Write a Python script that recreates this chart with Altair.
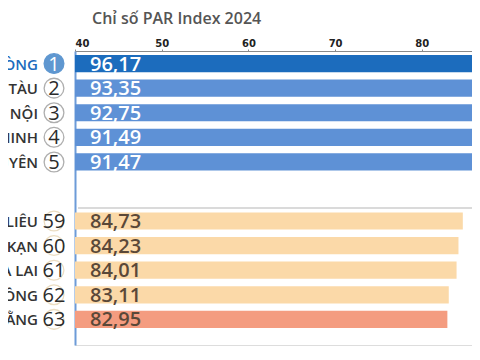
import altair as alt
import pandas as pd

ranks = [1, 2, 3, 4, 5, 59, 60, 61, 62, 63]
names = ["HẢI PHÒNG", "BÀ RỊA-VŨNG TÀU", "HÀ NỘI", "QUẢNG NINH", "THÁI NGUYÊN",
         "BẠC LIÊU", "BẮC KẠN", "GIA LAI", "LÂM ĐỒNG", "CAO BẰNG"]
values = [96.17, 93.35, 92.75, 91.49, 91.47, 84.73, 84.23, 84.01, 83.11, 82.95]
tiers = ["first", "top", "top", "top", "top", "low", "low", "low", "low", "last"]
x_ticks = [40, 50, 60, 70, 80]
title_text = "Chỉ số PAR Index 2024"

GAP = 1.4  # extra rows between the two groups
W, H = 397, 294
XMIN, XMAX = 40, 40 + W / 8.67
YMIN = -0.51
YMAX = YMIN + H / 24.6

df = pd.DataFrame({"rank": ranks, "name": names, "value": values, "tier": tiers})
df["pos"] = [i + (GAP if i >= 5 else 0) for i in range(len(df))]
df["y0"] = df["pos"] - 0.35
df["y1"] = df["pos"] + 0.35
df["lab"] = [f"{v:.2f}".replace(".", ",") for v in df["value"]]

xs = alt.Scale(domain=[XMIN, XMAX], nice=False, zero=False)
ys = alt.Scale(domain=[YMIN, YMAX], nice=False, zero=False, reverse=True)

base = alt.Chart(df)

bars = base.mark_bar(clip=True, cornerRadius=0).encode(
    x=alt.X("value:Q", scale=xs,
            axis=alt.Axis(orient="top", values=x_ticks, title=None, grid=False,
                          domainColor="#8a8a8a", tickColor="#8a8a8a", tickSize=2,
                          labelFont="DejaVu Sans", labelFontWeight="bold", labelFontSize=10,
                          labelColor="#222", labelPadding=1)),
    x2=alt.value(0),
    y=alt.Y("y0:Q", scale=ys,
            axis=alt.Axis(orient="left", labels=False, ticks=False, grid=False, title=None,
                          domainColor="#6d9bd8", domainWidth=2)),
    y2="y1:Q",
    color=alt.Color("tier:N", legend=None,
                    scale=alt.Scale(domain=["first", "top", "low", "last"],
                                    range=["#1c6cbd", "#5e91d6", "#fbd9a8", "#f49c80"])),
)

vals = base.mark_text(align="left", baseline="middle", font="Open Sans", fontSize=20,
                      fontWeight=600, dy=1).encode(
    x=alt.value(15),
    y=alt.Y("pos:Q", scale=ys),
    text="lab:N",
    color=alt.condition("datum.rank <= 5", alt.value("white"), alt.value("#5a4838")),
)

circles = base.mark_point(shape="circle", size=390, filled=False, strokeWidth=1.3).encode(
    x=alt.value(-21),
    y=alt.Y("pos:Q", scale=ys),
    fill=alt.condition("datum.rank == 1", alt.value("#1c6cbd"), alt.value("white")),
    stroke=alt.Stroke("tier:N", legend=None,
                      scale=alt.Scale(domain=["first", "top", "low", "last"],
                                      range=["#1c6cbd", "#8c8c8c", "#e3cfa8", "#e3cfa8"])),
)

nums = base.mark_text(align="center", baseline="middle", font="Open Sans", fontSize=20,
                      dy=1).encode(
    x=alt.value(-21),
    y=alt.Y("pos:Q", scale=ys),
    text="rank:N",
    color=alt.condition("datum.rank == 1", alt.value("white"), alt.value("#2b2b2b")),
)

labels = base.mark_text(align="right", baseline="middle", font="Open Sans", fontSize=15,
                        fontWeight=600, dy=1).encode(
    x=alt.value(-37),
    y=alt.Y("pos:Q", scale=ys),
    text="name:N",
    color=alt.condition("datum.rank == 1", alt.value("#1c6cbd"), alt.value("#333333")),
)

sep = alt.Chart(pd.DataFrame({"k": [0]})).mark_rule(color="#b5b5b5", strokeWidth=1).encode(
    x=alt.value(3), x2=alt.value(W + 10), y=alt.value(157)
)

title = alt.Chart(pd.DataFrame({"t": [title_text]})).mark_text(
    align="left", baseline="alphabetic", font="Open Sans", fontSize=16, fontWeight=600,
    color="#555555").encode(
    x=alt.value(17), y=alt.value(-27), text="t:N"
)

chart = alt.layer(sep, bars, vals, circles, nums, labels, title).properties(
    width=W, height=H,
    autosize=alt.AutoSizeParams(type="none"),
    padding={"left": 67, "top": 43, "right": 0, "bottom": 5},
).configure_view(stroke=None).configure(background="white")

chart.save("out.html", embed_options={"renderer": "svg", "actions": False})
